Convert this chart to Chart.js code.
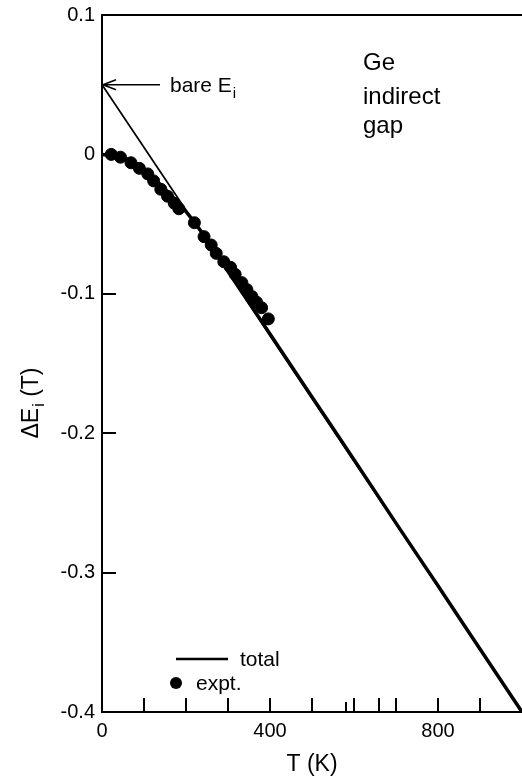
<!DOCTYPE html>
<html>
<head>
<meta charset="utf-8">
<script src="https://cdn.jsdelivr.net/npm/chart.js@4/dist/chart.umd.min.js"></script>
<style>
  html, body { margin: 0; padding: 0; background: #fff; }
  #wrap { position: relative; width: 522px; height: 779px; }
</style>
</head>
<body>
<div id="wrap"><canvas id="c" width="522" height="779"></canvas></div>
<script>
// Measured band-gap shift of Ge (indirect gap) vs temperature
const exptT = [22, 44, 69, 89, 109, 123, 140, 156, 172, 183, 220, 243, 260, 272, 290, 306, 317, 333, 345, 357, 368, 380, 396];
const exptE = [0, -0.002, -0.006, -0.010, -0.014, -0.019, -0.025, -0.030, -0.035, -0.039, -0.049, -0.059, -0.065, -0.071, -0.077, -0.081, -0.086, -0.092, -0.097, -0.102, -0.106, -0.110, -0.118];

// Calculated total shift
const totalT = [0, 50, 100, 150, 200, 250, 300, 400, 500, 600, 700, 800, 900, 1000];
const totalE = [0, -0.002, -0.011, -0.025, -0.041, -0.061, -0.0835, -0.1288, -0.174, -0.219, -0.2645, -0.3095, -0.3548, -0.4];

// High-temperature asymptote, extrapolated to the bare gap at T = 0
const bareT = [0, 1000];
const bareE = [0.05, -0.4];

// Axis ticks
const xTickValues = [0, 100, 200, 300, 400, 500, 580, 600, 660, 700, 800, 900];
const xTickLabels = [0, 400, 800];
const xShortTicks = [580];
const yTickValues = [0.1, 0, -0.1, -0.2, -0.3, -0.4];

const FONT = '"Liberation Sans", Arial, sans-serif';
const pts = (xs, ys) => xs.map((x, i) => ({ x: x, y: ys[i] }));

// Draws text with a subscript part, starting at x (left aligned)
function subText(ctx, x, y, main, sub, tail, size, subSize, drop) {
  ctx.font = size + 'px ' + FONT;
  ctx.fillText(main, x, y);
  let w = ctx.measureText(main).width;
  ctx.font = subSize + 'px ' + FONT;
  ctx.fillText(sub, x + w + 1, y + drop);
  w += ctx.measureText(sub).width + 1;
  if (tail) {
    ctx.font = size + 'px ' + FONT;
    ctx.fillText(tail, x + w, y);
  }
}
function subWidth(ctx, main, sub, tail, size, subSize) {
  ctx.font = size + 'px ' + FONT;
  let w = ctx.measureText(main).width + (tail ? ctx.measureText(tail).width : 0);
  ctx.font = subSize + 'px ' + FONT;
  return w + ctx.measureText(sub).width + 1;
}

const frame = {
  id: 'frame',
  afterDraw(chart) {
    const { ctx, chartArea: a, scales } = chart;
    const xs = scales.x, ys = scales.y;
    ctx.save();
    ctx.strokeStyle = '#000';
    ctx.lineWidth = 2;
    ctx.lineCap = 'butt';
    // spines: left, top, bottom
    ctx.beginPath();
    ctx.moveTo(a.left, a.top); ctx.lineTo(a.left, a.bottom);
    ctx.moveTo(a.left - 1, a.top); ctx.lineTo(a.right, a.top);
    ctx.moveTo(a.left - 1, a.bottom); ctx.lineTo(a.right, a.bottom);
    ctx.stroke();
    // inward tick marks
    ctx.beginPath();
    xTickValues.forEach(v => {
      if (v === 0) return;
      const px = Math.round(xs.getPixelForValue(v));
      const len = xShortTicks.includes(v) ? 10 : 14;
      ctx.moveTo(px, a.bottom); ctx.lineTo(px, a.bottom - len);
    });
    yTickValues.forEach(v => {
      const py = Math.round(ys.getPixelForValue(v));
      ctx.moveTo(a.left, py); ctx.lineTo(a.left + 14, py);
    });
    ctx.stroke();

    // arrow to the bare gap
    const ay = ys.getPixelForValue(bareE[0]);
    ctx.beginPath();
    ctx.lineWidth = 1.5;
    ctx.moveTo(a.left + 2, ay); ctx.lineTo(a.left + 58, ay);
    ctx.moveTo(a.left + 1, ay); ctx.lineTo(a.left + 14, ay - 5);
    ctx.moveTo(a.left + 1, ay); ctx.lineTo(a.left + 14, ay + 5);
    ctx.stroke();

    ctx.fillStyle = '#000';
    ctx.textBaseline = 'alphabetic';
    ctx.textAlign = 'left';
    subText(ctx, a.left + 68, ay + 7, 'bare E', 'i', '', 21, 15, 6);

    // sample label
    ctx.font = '24px ' + FONT;
    ctx.fillText('Ge', 363, 70);
    ctx.fillText('indirect', 363, 104);
    ctx.fillText('gap', 363, 133);

    // legend
    ctx.beginPath();
    ctx.lineWidth = 2.5;
    ctx.moveTo(176, 659); ctx.lineTo(228, 659);
    ctx.stroke();
    ctx.beginPath();
    ctx.arc(176, 683, 6, 0, Math.PI * 2);
    ctx.fill();
    ctx.font = '21px ' + FONT;
    ctx.fillText('total', 240, 666);
    ctx.fillText('expt.', 196, 690);

    // axis titles
    ctx.font = '23px ' + FONT;
    ctx.textAlign = 'center';
    ctx.fillText('T (K)', (a.left + a.right) / 2, 771);

    ctx.save();
    ctx.translate(38, 403);
    ctx.rotate(-Math.PI / 2);
    ctx.textAlign = 'left';
    const tw = subWidth(ctx, '\u0394E', 'i', ' (T)', 23, 16);
    subText(ctx, -tw / 2, 0, '\u0394E', 'i', ' (T)', 23, 16, 6);
    ctx.restore();

    ctx.restore();
  }
};

new Chart(document.getElementById('c'), {
  type: 'scatter',
  data: {
    datasets: [
      {
        label: 'expt.',
        data: pts(exptT, exptE),
        backgroundColor: '#000',
        borderColor: '#000',
        pointRadius: 6,
        pointHoverRadius: 6,
        order: 0
      },
      {
        label: 'total',
        type: 'line',
        data: pts(totalT, totalE),
        borderColor: '#000',
        borderWidth: 3.5,
        pointRadius: 0,
        cubicInterpolationMode: 'monotone',
        fill: false,
        order: 1
      },
      {
        label: 'bare',
        type: 'line',
        data: pts(bareT, bareE),
        borderColor: '#000',
        borderWidth: 1.8,
        pointRadius: 0,
        fill: false,
        order: 2
      }
    ]
  },
  options: {
    responsive: false,
    animation: false,
    events: [],
    layout: { autoPadding: false, padding: { top: 15, right: 0, left: 0, bottom: 0 } },
    plugins: { legend: { display: false }, tooltip: { enabled: false } },
    scales: {
      x: {
        type: 'linear',
        min: 0, max: 1000,
        afterBuildTicks: s => { s.ticks = xTickLabels.map(v => ({ value: v })); },
        afterFit: s => { s.height = 67; s.paddingLeft = 0; s.paddingRight = 0; },
        grid: { display: false, drawTicks: false },
        border: { display: false },
        ticks: {
          color: '#000',
          font: { family: FONT, size: 20 },
          padding: 7,
          maxRotation: 0,
          autoSkip: false
        }
      },
      y: {
        type: 'linear',
        min: -0.4, max: 0.1,
        afterBuildTicks: s => { s.ticks = yTickValues.map(v => ({ value: v })); },
        afterFit: s => { s.width = 102; s.paddingTop = 0; s.paddingBottom = 0; },
        grid: { display: false, drawTicks: false },
        border: { display: false },
        ticks: {
          color: '#000',
          font: { family: FONT, size: 20 },
          padding: 7,
          callback: v => (Math.abs(v) < 1e-9 ? '0' : String(Math.round(v * 10) / 10))
        }
      }
    }
  },
  plugins: [frame]
});
</script>
</body>
</html>
